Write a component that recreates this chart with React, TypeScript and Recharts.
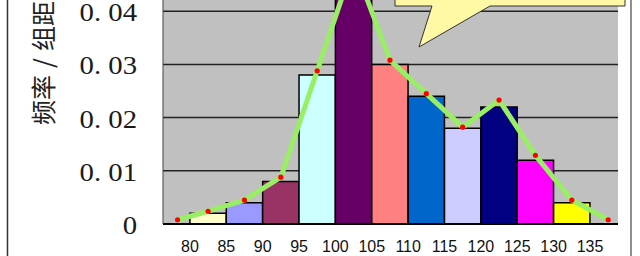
import { ComposedChart, Bar, Line, XAxis, YAxis, CartesianGrid, Cell, Customized } from 'recharts';

// class mid-points (class width 5) and frequency/class-width for each bar
const classMids = [82.5, 87.5, 92.5, 97.5, 102.5, 107.5, 112.5, 117.5, 122.5, 127.5, 132.5];
const densities = [0.002, 0.004, 0.008, 0.028, 0.048, 0.03, 0.024, 0.018, 0.022, 0.012, 0.004];

// frequency polygon vertices
const polygonX = [78.3, 82.5, 87.5, 92.5, 97.5, 102.5, 107.5, 112.5, 117.5, 122.5, 127.5, 132.5, 137.5];
const polygonY = [0.0008, 0.0024, 0.0045, 0.0088, 0.0288, 0.049, 0.0308, 0.0245, 0.0182, 0.0233, 0.0129, 0.0045, 0.0008];

const xTicks = [80, 85, 90, 95, 100, 105, 110, 115, 120, 125, 130, 135];
const yTicks = [0, 0.01, 0.02, 0.03, 0.04];
const yTickLabels = ['0', '0. 01', '0. 02', '0. 03', '0. 04'];

const barColors = [
  '#ffffcc', '#9999ff', '#993366', '#ccffff', '#660066', '#ff8080',
  '#0066cc', '#ccccff', '#000080', '#ff00ff', '#ffff00',
];

const barData = classMids.map((x, i) => ({ x, density: densities[i] }));
const polygonData = polygonX.map((x, i) => ({ x, y: polygonY[i] }));

const X_DOMAIN: [number, number] = [76.3, 138.85];

const YTick = (props: any) => {
  const { y, payload } = props;
  const label = yTickLabels[yTicks.indexOf(payload.value)];
  return (
    <text
      transform={`translate(137,${y}) scale(1.15,1)`}
      textAnchor="end"
      dy="0.4em"
      fontSize={25}
      fontFamily="'Liberation Serif', 'Times New Roman', serif"
      fill="#1a1a1a"
    >
      {label}
    </text>
  );
};

const YLabel = () => (
  <text
    transform="translate(42,117) rotate(-90)"
    textAnchor="middle"
    dominantBaseline="central"
    fontSize={25}
    fontFamily="'Noto Sans CJK SC', sans-serif"
    fill="#222"
  >
    频率<tspan dx={7}>/</tspan><tspan dx={7}>组距</tspan>
  </text>
);

// slide frame and the speech bubble at the top right
const Decor = () => (
  <g>
    <line x1={7.5} y1={0} x2={7.5} y2={310} stroke="#333" strokeWidth={1.5} />
    <line x1={631} y1={0} x2={631} y2={310} stroke="#444" strokeWidth={1.2} />
    <path
      d="M395,0 L395,60 L432,60 L419,101 L490,60 L625,60 L625,0 Z"
      fill="#fff9a6"
      stroke="#333"
      strokeWidth={1}
    />
  </g>
);

export default function App() {
  return (
    <div style={{ position: 'absolute', left: 0, top: -54 }}>
      <ComposedChart
        width={640}
        height={310}
        data={barData}
        margin={{ top: 12, right: 22, bottom: 0, left: 0 }}
      >
        <CartesianGrid vertical={false} fill="#c0c0c0" stroke="#222" strokeWidth={1.5} />
        <XAxis
          type="number"
          dataKey="x"
          domain={X_DOMAIN}
          allowDataOverflow
          ticks={xTicks}
          interval={0}
          height={32}
          tickLine={false}
          tickSize={0}
          tickMargin={17}
          axisLine={{ stroke: '#000', strokeWidth: 2 }}
          tick={{ fill: '#111', fontSize: 16, fontFamily: "'Liberation Sans', Arial, sans-serif" }}
        />
        <XAxis xAxisId="poly" type="number" dataKey="x" domain={X_DOMAIN} allowDataOverflow hide />
        <YAxis
          width={163}
          domain={[0, 0.05]}
          ticks={yTicks}
          interval={0}
          tickLine={false}
          axisLine={{ stroke: '#444', strokeWidth: 1 }}
          tick={<YTick />}
          label={{ value: '频率/组距', content: () => <YLabel /> }}
        />
        <Bar dataKey="density" barSize={36.3} stroke="#000" strokeWidth={1.5} isAnimationActive={false}>
          {barData.map((_, i) => (
            <Cell key={`c-${i}`} fill={barColors[i]} />
          ))}
        </Bar>
        <Line
          xAxisId="poly"
          data={polygonData}
          dataKey="y"
          stroke="none"
          dot={{ r: 2.6, fill: '#ff0000', stroke: 'none' }}
          isAnimationActive={false}
        />
        <Line
          xAxisId="poly"
          data={polygonData}
          dataKey="y"
          stroke="#99ee66"
          strokeWidth={5}
          strokeLinejoin="round"
          dot={false}
          isAnimationActive={false}
        />
        <Customized component={Decor} />
      </ComposedChart>
    </div>
  );
}
